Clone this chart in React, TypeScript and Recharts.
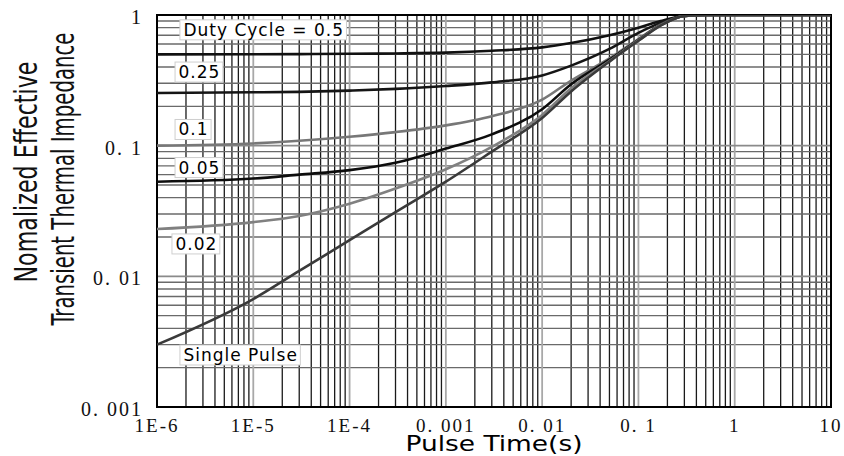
import React from 'react';
import { ComposedChart, Line, XAxis, YAxis, CartesianGrid, ReferenceArea, ReferenceDot } from 'recharts';

// ---- data ----
const pulseTimes = [1e-6, 1e-5, 3e-5, 1e-4, 3e-4, 1e-3, 3e-3, 1e-2, 2e-2, 5e-2, 0.1, 0.17, 0.3, 0.5, 1, 10];
const duty05 = [0.5, 0.501, 0.502, 0.505, 0.508, 0.515, 0.532, 0.565, 0.61, 0.7, 0.8, 0.9, 0.985, 1, 1, 1];
const duty025 = [0.253, 0.256, 0.258, 0.264, 0.272, 0.286, 0.305, 0.345, 0.41, 0.55, 0.73, 0.87, 0.985, 1, 1, 1];
const duty01 = [0.1, 0.104, 0.109, 0.117, 0.127, 0.143, 0.168, 0.225, 0.315, 0.465, 0.655, 0.845, 0.985, 1, 1, 1];
const duty005 = [0.053, 0.056, 0.06, 0.065, 0.074, 0.095, 0.122, 0.19, 0.295, 0.455, 0.645, 0.84, 0.985, 1, 1, 1];
const duty002 = [0.023, 0.026, 0.029, 0.036, 0.047, 0.066, 0.098, 0.172, 0.275, 0.445, 0.64, 0.835, 0.985, 1, 1, 1];
const singlePulse = [0.003, 0.0067, 0.011, 0.0189, 0.031, 0.053, 0.09, 0.163, 0.26, 0.44, 0.635, 0.83, 0.985, 1, 1, 1];

const seriesKeys = ['d05', 'd025', 'd01', 'd005', 'd002', 'single'];
const seriesNames = ['Duty Cycle = 0.5', '0.25', '0.1', '0.05', '0.02', 'Single Pulse'];
const seriesColors = ['#111111', '#151515', '#777777', '#0d0d0d', '#808080', '#3a3a3a'];
const labelXs = [1.73e-6, 1.54e-6, 1.54e-6, 1.54e-6, 1.43e-6, 1.73e-6];
const labelYs = [0.77, 0.366, 0.133, 0.068, 0.0177, 0.0025];

const xTicks = [1e-6, 1e-5, 1e-4, 1e-3, 1e-2, 0.1, 1, 10];
const xTickLabels = ['1E-6', '1E-5', '1E-4', '0. 001', '0. 01', '0. 1', '1', '10'];
const yTicks = [0.001, 0.01, 0.1, 1];
const yTickLabels = ['0. 001', '0. 01', '0. 1', '1'];
const minorSteps = [2, 3, 4, 5, 6, 7, 8, 9];

const seriesValues = [duty05, duty025, duty01, duty005, duty002, singlePulse];
const data = pulseTimes.map((t, i) => {
  const row: any = { t };
  seriesKeys.forEach((k, j) => { row[k] = seriesValues[j][i]; });
  return row;
});

const xMinor: number[] = [];
xTicks.slice(0, -1).forEach((d) => minorSteps.forEach((m) => xMinor.push(d * m)));
const yMinor: number[] = [];
yTicks.slice(0, -1).forEach((d) => minorSteps.forEach((m) => yMinor.push(d * m)));

const SERIF = "'Liberation Serif', 'DejaVu Serif', serif";
const SANS = "'DejaVu Sans', Verdana, sans-serif";
const NARROW = "'Liberation Sans Narrow', 'DejaVu Sans Condensed', 'Liberation Sans', sans-serif";

let ctx: CanvasRenderingContext2D | null = null;
const measure = (s: string, font: string) => {
  if (!ctx) ctx = document.createElement('canvas').getContext('2d');
  if (!ctx) return s.length * 9;
  ctx.font = font;
  return ctx.measureText(s).width;
};

const LABEL_FS = 17;
const LABEL_LS = 1;

const makeLabelShape = (text: string) => (props: any) => {
  const { cx, cy } = props;
  const tw = measure(text, `${LABEL_FS}px 'DejaVu Sans'`) + LABEL_LS * (text.length - 1);
  const w = tw + 7;
  return (
    <g>
      <rect x={cx} y={cy - 10} width={w} height={20} fill="#fff" stroke="#cfcfcf" strokeWidth={1} />
      <text x={cx + 3.5} y={cy + 6} fontFamily={SANS} fontSize={LABEL_FS} letterSpacing={LABEL_LS} fill="#000">
        {text}
      </text>
    </g>
  );
};

const XTick = (props: any) => {
  const { x, y, payload } = props;
  const idx = xTicks.indexOf(payload.value);
  return (
    <text x={x} y={y} dy="0.71em" textAnchor="middle" fontFamily={SERIF} fontSize={19} letterSpacing={2} fill="#111">
      {idx >= 0 ? xTickLabels[idx] : ''}
    </text>
  );
};

const YTick = (props: any) => {
  const { x, y, payload } = props;
  const idx = yTicks.indexOf(payload.value);
  return (
    <text x={x} y={y + 9} textAnchor="end" fontFamily={SERIF} fontSize={20} letterSpacing={2} fill="#111">
      {idx >= 0 ? yTickLabels[idx] : ''}
    </text>
  );
};

const YTitle = () => (
  <g>
    <text
      x={37}
      y={172}
      transform="rotate(-90, 37, 172)"
      textAnchor="middle"
      fontFamily={NARROW}
      fontSize={32}
      textLength={221}
      lengthAdjust="spacingAndGlyphs"
      fill="#111"
    >
      Nomalized Effective
    </text>
    <text
      x={74}
      y={179}
      transform="rotate(-90, 74, 179)"
      textAnchor="middle"
      fontFamily={NARROW}
      fontSize={32}
      textLength={293}
      lengthAdjust="spacingAndGlyphs"
      fill="#111"
    >
      Transient Thermal Impedance
    </text>
  </g>
);

const XTitle = () => (
  <text
    x={494}
    y={451}
    textAnchor="middle"
    fontFamily={SANS}
    fontSize={22}
    textLength={177}
    lengthAdjust="spacingAndGlyphs"
    fill="#000"
  >
    Pulse Time(s)
  </text>
);

export default function App() {
  return (
    <div style={{ position: 'absolute', left: 0, top: 0, width: 844, height: 456, background: '#fff' }}>
      <ComposedChart width={844} height={456} data={data} margin={{ top: 15, right: 13, bottom: 0, left: 0 }}>
        <CartesianGrid horizontal={false} verticalValues={xMinor} stroke="#1a1a1a" strokeWidth={1.3} />
        <CartesianGrid vertical={false} horizontalValues={yMinor} stroke="#6a6a6a" strokeWidth={1.4} />
        <CartesianGrid horizontal={false} verticalValues={xTicks} stroke="#a8a8a8" strokeWidth={1.8} />
        <CartesianGrid vertical={false} horizontalValues={yTicks} stroke="#8a8a8a" strokeWidth={1.6} />
        <XAxis
          dataKey="t"
          type="number"
          scale="log"
          domain={[1e-6, 10]}
          ticks={xTicks}
          allowDataOverflow
          height={49}
          tickSize={0}
          tickMargin={12}
          axisLine={false}
          tickLine={false}
          tick={<XTick />}
          interval={0}
          label={<XTitle />}
        />
        <YAxis
          type="number"
          scale="log"
          domain={[0.001, 1]}
          ticks={yTicks}
          allowDataOverflow
          width={157}
          tickSize={0}
          tickMargin={14}
          axisLine={false}
          tickLine={false}
          tick={<YTick />}
          interval={0}
          label={<YTitle />}
        />
        <ReferenceArea x1={1e-6} x2={10} y1={0.001} y2={1} fill="none" stroke="#000" strokeWidth={2} />
        {seriesKeys.map((k, i) => (
          <Line
            key={k}
            dataKey={k}
            type="monotone"
            stroke={seriesColors[i]}
            strokeWidth={2.6}
            dot={false}
            activeDot={false}
            isAnimationActive={false}
          />
        ))}
        {seriesNames.map((n, i) => (
          <ReferenceDot key={n} x={labelXs[i]} y={labelYs[i]} r={0} shape={makeLabelShape(n)} />
        ))}
      </ComposedChart>
    </div>
  );
}
